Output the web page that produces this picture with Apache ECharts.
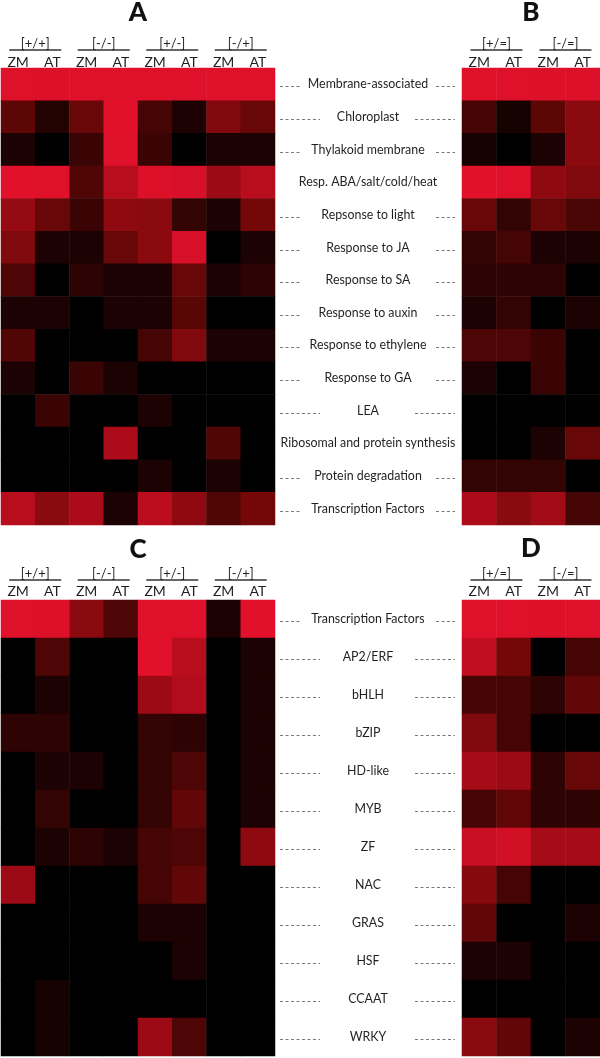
<!DOCTYPE html>
<html><head><meta charset="utf-8">
<script src="https://cdn.jsdelivr.net/npm/echarts@6/dist/echarts.min.js"></script>
<style>html,body{margin:0;padding:0;background:#fff}#c{width:600px;height:1058px}</style>
</head><body><div id="c"></div>
<script>
// ---- data ----
const rowsAB = ['Membrane-associated','Chloroplast','Thylakoid membrane','Resp. ABA/salt/cold/heat','Repsonse to light','Response to JA','Response to SA','Response to auxin','Response to ethylene','Response to GA','LEA','Ribosomal and protein synthesis','Protein degradation','Transcription Factors'];
const rowsCD = ['Transcription Factors','AP2/ERF','bHLH','bZIP','HD-like','MYB','ZF','NAC','GRAS','HSF','CCAAT','WRKY'];
const colsAC = ['ZM','AT','ZM','AT','ZM','AT','ZM','AT'];
const colsBD = ['ZM','AT','ZM','AT'];
const groupsAC = ['[+/+]','[-/-]','[+/-]','[-/+]'];
const groupsBD = ['[+/=]','[-/=]'];
const panelTitles = ['A','B','C','D'];

const valuesA = [
  [0.98,0.97,0.98,0.98,0.98,0.98,0.98,0.98],
  [0.40,0.15,0.45,1.00,0.30,0.12,0.55,0.45],
  [0.12,0.00,0.25,0.98,0.25,0.00,0.12,0.12],
  [1.00,0.98,0.35,0.80,0.97,0.95,0.68,0.80],
  [0.65,0.45,0.25,0.62,0.60,0.22,0.12,0.50],
  [0.55,0.12,0.12,0.45,0.60,0.95,0.00,0.12],
  [0.33,0.00,0.20,0.12,0.12,0.45,0.12,0.20],
  [0.12,0.12,0.00,0.12,0.12,0.38,0.00,0.00],
  [0.35,0.00,0.00,0.00,0.30,0.55,0.12,0.12],
  [0.12,0.00,0.25,0.12,0.00,0.00,0.00,0.00],
  [0.00,0.25,0.00,0.00,0.12,0.00,0.00,0.00],
  [0.00,0.00,0.00,0.75,0.00,0.00,0.35,0.00],
  [0.00,0.00,0.00,0.00,0.12,0.00,0.12,0.00],
  [0.80,0.60,0.75,0.12,0.82,0.62,0.35,0.50]
];
const valuesB = [
  [0.98,0.98,0.97,0.97],
  [0.30,0.10,0.40,0.60],
  [0.10,0.00,0.12,0.60],
  [1.00,0.98,0.62,0.55],
  [0.45,0.22,0.45,0.32],
  [0.22,0.30,0.12,0.12],
  [0.20,0.20,0.20,0.00],
  [0.12,0.22,0.00,0.12],
  [0.33,0.33,0.25,0.00],
  [0.12,0.00,0.25,0.00],
  [0.00,0.00,0.00,0.00],
  [0.00,0.00,0.12,0.45],
  [0.22,0.22,0.22,0.00],
  [0.75,0.60,0.70,0.30]
];
const valuesC = [
  [0.98,0.97,0.60,0.33,0.98,0.98,0.12,1.00],
  [0.00,0.33,0.00,0.00,1.00,0.80,0.00,0.12],
  [0.00,0.12,0.00,0.00,0.68,0.78,0.00,0.12],
  [0.20,0.20,0.00,0.00,0.22,0.20,0.00,0.12],
  [0.00,0.12,0.12,0.00,0.22,0.33,0.00,0.12],
  [0.00,0.22,0.00,0.00,0.22,0.42,0.00,0.12],
  [0.00,0.12,0.20,0.12,0.30,0.33,0.00,0.62],
  [0.68,0.00,0.00,0.00,0.30,0.42,0.00,0.00],
  [0.00,0.00,0.00,0.00,0.12,0.12,0.00,0.00],
  [0.00,0.00,0.00,0.00,0.00,0.12,0.00,0.00],
  [0.00,0.10,0.00,0.00,0.00,0.00,0.00,0.00],
  [0.00,0.10,0.00,0.00,0.68,0.33,0.00,0.00]
];
const valuesD = [
  [0.98,0.98,0.97,0.98],
  [0.85,0.50,0.00,0.30],
  [0.30,0.30,0.20,0.42],
  [0.55,0.30,0.00,0.00],
  [0.72,0.68,0.20,0.45],
  [0.30,0.42,0.20,0.20],
  [0.88,0.92,0.72,0.72],
  [0.58,0.30,0.00,0.00],
  [0.42,0.00,0.00,0.12],
  [0.12,0.12,0.00,0.00],
  [0.00,0.00,0.00,0.00],
  [0.60,0.42,0.00,0.12]
];

// ---- styling / layout (not data) ----
const FONT = 'Lato';
const TXT = '#231f20';
const dashAB = ['s','l','s','n','s','s','s','s','s','s','l','n','s','s'];
const dashCD = ['s','l','l','l','l','l','l','l','l','l','l','l'];
const grids = [
  {left:1, top:68, width:274, height:457},
  {left:462, top:68, width:138, height:457},
  {left:1, top:600, width:274, height:456},
  {left:462, top:600, width:138, height:456}
];
const panelCols = [colsAC, colsBD, colsAC, colsBD];
const panelGroups = [groupsAC, groupsBD, groupsAC, groupsBD];
const panelRows = [rowsAB, rowsAB, rowsCD, rowsCD];
const panelVals = [valuesA, valuesB, valuesC, valuesD];
const hdr = [ {zm:-1, grp:18}, {zm:-1, grp:18}, {zm:2, grp:20}, {zm:2, grp:20} ];

function toCells(vals){
  const out = [];
  vals.forEach((row, r) => row.forEach((v, c) => out.push([c, r, v])));
  return out;
}

const xAxis = [], yAxis = [], series = [];
for (let p = 0; p < 4; p++) {
  xAxis.push({
    type:'category', gridIndex:p, position:'top', data:panelCols[p],
    axisLine:{show:false}, axisTick:{show:false}, splitLine:{show:false},
    axisLabel:{interval:0, margin:hdr[p].zm, fontFamily:FONT, fontSize:14, color:TXT}
  });
  xAxis.push({
    type:'category', gridIndex:p, position:'top', offset:hdr[p].grp, data:panelGroups[p],
    axisLine:{show:false}, axisTick:{show:false}, splitLine:{show:false},
    axisLabel:{interval:0, margin:0, fontFamily:FONT, fontSize:13, color:TXT}
  });
  const showLab = (p === 0 || p === 2);
  yAxis.push({
    type:'category', gridIndex:p, data:panelRows[p], inverse:true, position:'right',
    axisLine:{show:false}, axisTick:{show:false}, splitLine:{show:false},
    axisLabel:{show:showLab, interval:0, align:'center', margin:93, padding:[4,0,0,0],
      fontFamily:FONT, fontSize:12.4, color:TXT}
  });
  series.push({
    type:'heatmap', xAxisIndex:p*2, yAxisIndex:p, data:toCells(panelVals[p]),
    itemStyle:{borderWidth:0}, emphasis:{disabled:true}, silent:true, progressive:0
  });
}

const chart = echarts.init(document.getElementById('c'), null, {renderer:'canvas'});
chart.setOption({
  backgroundColor:'#ffffff',
  animation:false,
  grid:grids,
  xAxis, yAxis, series,
  visualMap:{show:false, type:'continuous', min:0, max:1, seriesIndex:[0,1,2,3],
    inRange:{color:['#000000','#740808','#e3102b']}}
});

// decorations: panel letters, group underlines, dashed leaders
const graphics = [];
const titlePos = [[138,13],[531,13],[138,550],[531,549]];
panelTitles.forEach((t,i) => graphics.push({type:'text', x:titlePos[i][0], y:titlePos[i][1],
  style:{text:t, font:'900 26px "Lato"', fill:'#111', align:'center', verticalAlign:'middle'}}));
for (let p = 0; p < 4; p++) {
  const ly = p < 2 ? 50 : 580;
  panelGroups[p].forEach((name, k) => {
    const cx = chart.convertToPixel({xAxisIndex:p*2+1}, k);
    graphics.push({type:'line', shape:{x1:cx-26, y1:ly, x2:cx+26, y2:ly}, style:{stroke:'#333', lineWidth:1.4}});
  });
}
function leaders(rows, dashes, yIdx){
  rows.forEach((name, i) => {
    const d = dashes[i];
    if (d === 'n') return;
    const y = Math.round(chart.convertToPixel({yAxisIndex:yIdx}, name)) + 2.5;
    const segs = d === 's' ? [[280,301],[436,455]] : [[280,320],[415,455]];
    segs.forEach(s => graphics.push({type:'line', shape:{x1:s[0], y1:y, x2:s[1], y2:y},
      style:{stroke:'#777', lineWidth:1, lineDash:[3,2.5]}}));
  });
}
leaders(rowsAB, dashAB, 0);
leaders(rowsCD, dashCD, 2);
chart.setOption({graphic:graphics});
</script>
</body></html>
